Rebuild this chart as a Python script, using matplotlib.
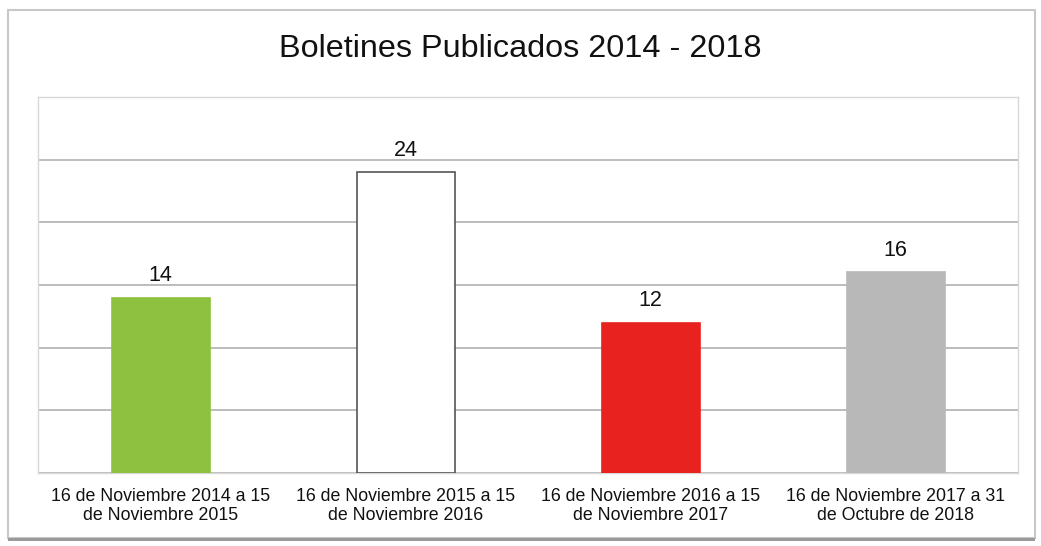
import matplotlib
matplotlib.use("Agg")
import matplotlib.pyplot as plt
from matplotlib.patches import Rectangle

plt.rcParams['font.family'] = ['Liberation Sans', 'DejaVu Sans']

title = "Boletines Publicados 2014 - 2018"
categories = [
    "16 de Noviembre 2014 a 15\nde Noviembre 2015",
    "16 de Noviembre 2015 a 15\nde Noviembre 2016",
    "16 de Noviembre 2016 a 15\nde Noviembre 2017",
    "16 de Noviembre 2017 a 31\nde Octubre de 2018",
]
values = [14, 24, 12, 16]
colors = ["#8DC13F", "#FFFFFF", "#E8221E", "#B8B8B8"]
edges = ["#8DC13F", "#555555", "#E8221E", "#B8B8B8"]

W, H = 1041, 546
fig = plt.figure(figsize=(W / 100, H / 100), dpi=100)
fig.patch.set_facecolor("white")

# outer chart frame
fig.patches.append(Rectangle((8 / W, 1 - 538 / H), (1035 - 8) / W, (538 - 10) / H,
                             transform=fig.transFigure, facecolor="white",
                             edgecolor="#C8C8C8", linewidth=1.5, zorder=-2))
fig.patches.append(Rectangle((8 / W, 1 - 541 / H), (1035 - 8) / W, 3 / H,
                             transform=fig.transFigure, facecolor="#9A9A9A",
                             edgecolor="none", zorder=-2))

ax = fig.add_axes([38 / W, 1 - 473 / H, (1018 - 38) / W, (473 - 97) / H])
ax.set_zorder(2)
ax.set_facecolor("white")
x = list(range(len(values)))
bars = ax.bar(x, values, width=0.4, color=colors, edgecolor=edges, linewidth=1.2, zorder=3)
for xi, v in zip(x, values):
    ax.text(xi, v + 0.9, str(v), ha="center", va="bottom", fontsize=15.5, color="#111111")

ax.set_xlim(-0.5, len(values) - 0.5)
ax.set_ylim(0, 30)
ax.set_yticks(range(0, 31, 5))
ax.yaxis.grid(True, color="#B0B0B0", linewidth=1.2)
ax.set_axisbelow(True)
ax.tick_params(axis="y", left=False, labelleft=False)
ax.tick_params(axis="x", bottom=False, pad=7)
ax.set_xticks(x)
ax.set_xticklabels(categories, fontsize=12.8, color="#111111", linespacing=1.15)
for s in ax.spines.values():
    s.set_color("#D8D8D8")
    s.set_linewidth(1)

fig.text(0.5, 1 - 49 / H, title, ha="center", va="center", fontsize=23.3, color="#111111")

fig.savefig("out.png", dpi=100)
